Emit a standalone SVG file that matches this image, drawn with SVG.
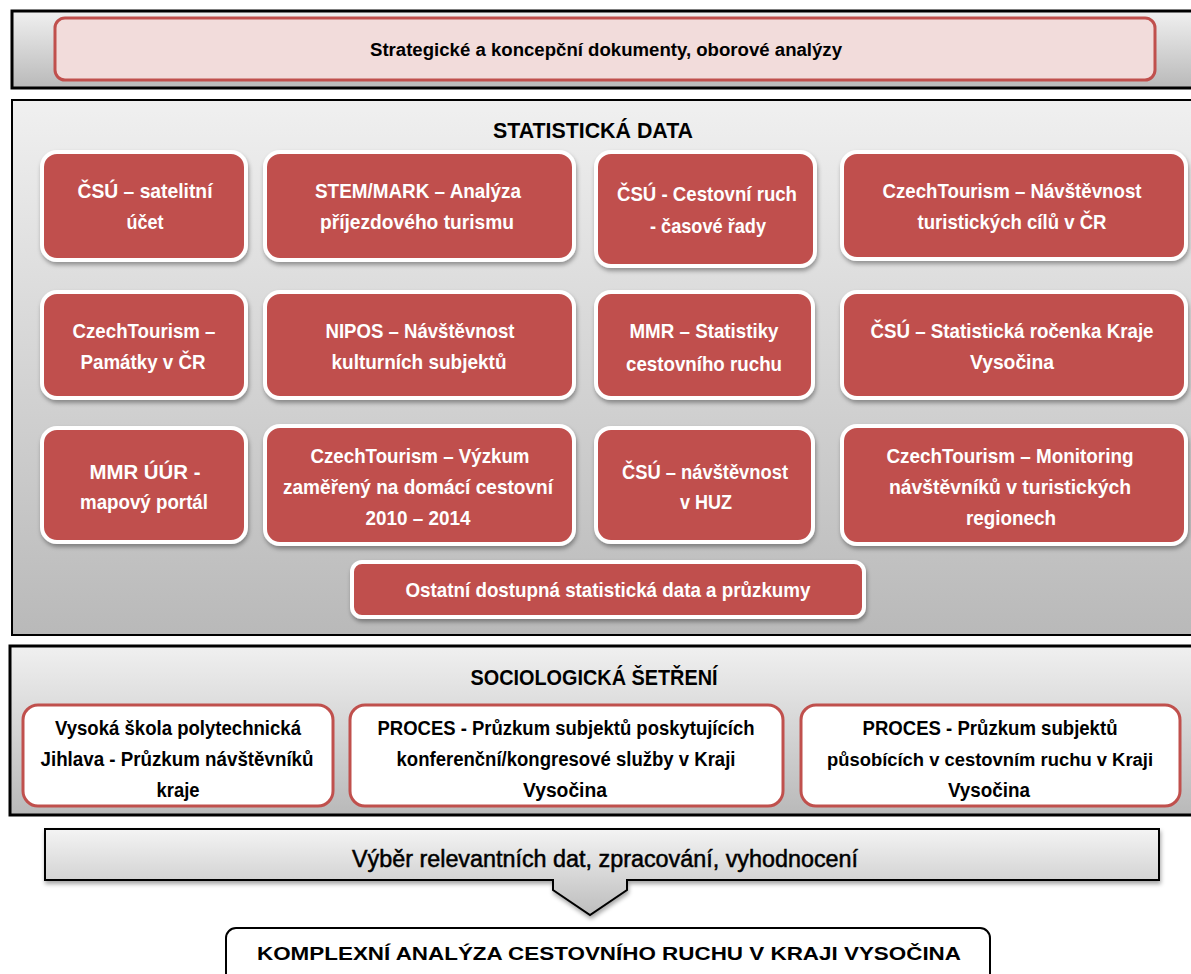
<svg xmlns="http://www.w3.org/2000/svg" width="1191" height="974" viewBox="0 0 1191 974">
<defs>
<linearGradient id="gBand" x1="0" y1="0" x2="0" y2="1">
<stop offset="0" stop-color="#f0f0f0"/><stop offset="1" stop-color="#b9b9b9"/>
</linearGradient>
<linearGradient id="gCall" x1="0" y1="0" x2="0" y2="1">
<stop offset="0" stop-color="#f4f4f4"/><stop offset="1" stop-color="#bdbdbd"/>
</linearGradient>
<filter id="sh" x="-10%" y="-10%" width="120%" height="130%">
<feDropShadow dx="1" dy="3" stdDeviation="2" flood-color="#000" flood-opacity="0.35"/>
</filter>
<style>
.band{fill:url(#gBand);stroke:#000;stroke-width:3}
.red{fill:#c0504d;stroke:#fff;stroke-width:4;filter:url(#sh)}
.soc{fill:#fff;stroke:#c0504d;stroke-width:3}
.wt{font-family:"Liberation Sans",Arial,sans-serif;font-weight:bold;font-size:21px;fill:#fff;text-anchor:middle}
.bt{font-family:"Liberation Sans",Arial,sans-serif;font-weight:bold;font-size:20px;fill:#000;text-anchor:middle}
.top{font-family:"Liberation Sans",Arial,sans-serif;font-weight:bold;font-size:18px;fill:#000;text-anchor:middle}
.ttl{font-family:"Liberation Sans",Arial,sans-serif;font-weight:bold;font-size:22px;fill:#000;text-anchor:middle}
.call{font-family:"Liberation Sans",Arial,sans-serif;font-weight:normal;font-size:23px;fill:#000;stroke:#000;stroke-width:0.5;text-anchor:middle}
.fin{font-family:"Liberation Sans",Arial,sans-serif;font-weight:bold;font-size:19px;fill:#000;text-anchor:middle}
</style>
</defs>

<g id="band-top">
<rect x="12" y="11" width="1185" height="77" class="band"/>
<rect x="55" y="18" width="1100" height="62" rx="10" fill="#f2dcdb" stroke="#c0504d" stroke-width="3"/>
<text x="606" y="56" class="top" textLength="472" lengthAdjust="spacingAndGlyphs">Strategické a koncepční dokumenty, oborové analýzy</text>
</g>

<g id="band-stat">
<rect x="12" y="100" width="1185" height="535" class="band" style="stroke-width:2"/>
<text x="593" y="138" class="ttl" textLength="200" lengthAdjust="spacingAndGlyphs">STATISTICKÁ DATA</text>
</g>

<g id="n1"><rect x="42" y="152" width="204" height="108" rx="15" class="red"/>
<text class="wt"><tspan x="145" y="198" textLength="135" lengthAdjust="spacingAndGlyphs">ČSÚ – satelitní</tspan><tspan x="145" y="229" textLength="37" lengthAdjust="spacingAndGlyphs">účet</tspan></text></g>
<g id="n2"><rect x="265" y="152" width="309" height="108" rx="15" class="red"/>
<text class="wt"><tspan x="418" y="198" textLength="206" lengthAdjust="spacingAndGlyphs">STEM/MARK – Analýza</tspan><tspan x="417" y="229" textLength="194" lengthAdjust="spacingAndGlyphs">příjezdového turismu</tspan></text></g>
<g id="n3"><rect x="596" y="152" width="219" height="114" rx="15" class="red"/>
<text class="wt"><tspan x="707" y="201" textLength="180" lengthAdjust="spacingAndGlyphs">ČSÚ - Cestovní ruch</tspan><tspan x="708" y="233" textLength="116" lengthAdjust="spacingAndGlyphs">- časové řady</tspan></text></g>
<g id="n4"><rect x="842" y="152" width="344" height="107" rx="15" class="red"/>
<text class="wt"><tspan x="1012" y="198" textLength="259" lengthAdjust="spacingAndGlyphs">CzechTourism – Návštěvnost</tspan><tspan x="1012" y="229" textLength="189" lengthAdjust="spacingAndGlyphs">turistických cílů v ČR</tspan></text></g>

<g id="n5"><rect x="42" y="292" width="204" height="106" rx="15" class="red"/>
<text class="wt"><tspan x="144" y="338" textLength="143" lengthAdjust="spacingAndGlyphs">CzechTourism –</tspan><tspan x="143" y="369" textLength="125" lengthAdjust="spacingAndGlyphs">Památky v ČR</tspan></text></g>
<g id="n6"><rect x="265" y="292" width="309" height="106" rx="15" class="red"/>
<text class="wt"><tspan x="420" y="338" textLength="189" lengthAdjust="spacingAndGlyphs">NIPOS – Návštěvnost</tspan><tspan x="419" y="369" textLength="175" lengthAdjust="spacingAndGlyphs">kulturních subjektů</tspan></text></g>
<g id="n7"><rect x="596" y="292" width="217" height="106" rx="15" class="red"/>
<text class="wt"><tspan x="704" y="338" textLength="149" lengthAdjust="spacingAndGlyphs">MMR – Statistiky</tspan><tspan x="704" y="371" textLength="156" lengthAdjust="spacingAndGlyphs">cestovního ruchu</tspan></text></g>
<g id="n8"><rect x="842" y="292" width="344" height="106" rx="15" class="red"/>
<text class="wt"><tspan x="1012" y="338" textLength="283" lengthAdjust="spacingAndGlyphs">ČSÚ – Statistická ročenka Kraje</tspan><tspan x="1012" y="369" textLength="84" lengthAdjust="spacingAndGlyphs">Vysočina</tspan></text></g>

<g id="n9"><rect x="42" y="428" width="204" height="114" rx="15" class="red"/>
<text class="wt"><tspan x="145" y="479" textLength="111" lengthAdjust="spacingAndGlyphs">MMR ÚÚR  -</tspan><tspan x="144" y="509" textLength="128" lengthAdjust="spacingAndGlyphs">mapový portál</tspan></text></g>
<g id="n10"><rect x="265" y="426" width="309" height="118" rx="15" class="red"/>
<text class="wt"><tspan x="420" y="463" textLength="219" lengthAdjust="spacingAndGlyphs">CzechTourism – Výzkum</tspan><tspan x="418" y="494" textLength="270" lengthAdjust="spacingAndGlyphs">zaměřený na domácí cestovní</tspan><tspan x="418" y="525" textLength="105" lengthAdjust="spacingAndGlyphs">2010 – 2014</tspan></text></g>
<g id="n11"><rect x="596" y="428" width="217" height="114" rx="15" class="red"/>
<text class="wt"><tspan x="705" y="479" textLength="166" lengthAdjust="spacingAndGlyphs">ČSÚ – návštěvnost</tspan><tspan x="706" y="509" textLength="52" lengthAdjust="spacingAndGlyphs">v HUZ</tspan></text></g>
<g id="n12"><rect x="842" y="426" width="344" height="118" rx="15" class="red"/>
<text class="wt"><tspan x="1010" y="463" textLength="247" lengthAdjust="spacingAndGlyphs">CzechTourism – Monitoring</tspan><tspan x="1010" y="494" textLength="242" lengthAdjust="spacingAndGlyphs">návštěvníků v turistických</tspan><tspan x="1011" y="525" textLength="90" lengthAdjust="spacingAndGlyphs">regionech</tspan></text></g>
<g id="n13"><rect x="352" y="562" width="512" height="55" rx="10" class="red"/>
<text class="wt"><tspan x="608" y="597" textLength="405" lengthAdjust="spacingAndGlyphs">Ostatní dostupná statistická data  a průzkumy</tspan></text></g>

<g id="band-soc">
<rect x="10" y="646" width="1187" height="169" class="band"/>
<text x="594" y="685" class="ttl" textLength="247" lengthAdjust="spacingAndGlyphs">SOCIOLOGICKÁ ŠETŘENÍ</text>
</g>
<g id="s1"><rect x="23" y="705" width="310" height="101" rx="15" class="soc"/>
<text class="bt"><tspan x="178" y="735" textLength="246" lengthAdjust="spacingAndGlyphs">Vysoká škola polytechnická</tspan><tspan x="177" y="766" textLength="273" lengthAdjust="spacingAndGlyphs">Jihlava - Průzkum návštěvníků</tspan><tspan x="178" y="797" textLength="43" lengthAdjust="spacingAndGlyphs">kraje</tspan></text></g>
<g id="s2"><rect x="350" y="705" width="433" height="101" rx="15" class="soc"/>
<text class="bt"><tspan x="566" y="735" textLength="377" lengthAdjust="spacingAndGlyphs">PROCES - Průzkum subjektů poskytujících</tspan><tspan x="566" y="766" textLength="339" lengthAdjust="spacingAndGlyphs">konferenční/kongresové služby v Kraji</tspan><tspan x="565" y="797" textLength="84" lengthAdjust="spacingAndGlyphs">Vysočina</tspan></text></g>
<g id="s3"><rect x="801" y="705" width="379" height="101" rx="15" class="soc"/>
<text class="bt"><tspan x="990" y="735" textLength="255" lengthAdjust="spacingAndGlyphs">PROCES - Průzkum subjektů</tspan></text>
<text class="bt" style="font-size:18px"><tspan x="990" y="766" textLength="326" lengthAdjust="spacingAndGlyphs">působících v cestovním ruchu v Kraji</tspan></text>
<text class="bt"><tspan x="989" y="797" textLength="82" lengthAdjust="spacingAndGlyphs">Vysočina</tspan></text></g>

<g id="connectors">
<path d="M45 829 H1159 V880 H627 V890 L590 915 L553 890 V880 H45 Z" fill="url(#gCall)" stroke="#000" stroke-width="2" filter="url(#sh)"/>
</g>
<g id="callout">
<text x="605" y="867" class="call" textLength="506" lengthAdjust="spacingAndGlyphs">Výběr relevantních dat, zpracování, vyhodnocení</text>
</g>

<g id="final">
<rect x="226" y="928" width="764" height="60" rx="10" fill="#fff" stroke="#000" stroke-width="2"/>
<text x="609" y="960" class="fin" textLength="704" lengthAdjust="spacingAndGlyphs">KOMPLEXNÍ ANALÝZA CESTOVNÍHO RUCHU V KRAJI VYSOČINA</text>
</g>
</svg>
